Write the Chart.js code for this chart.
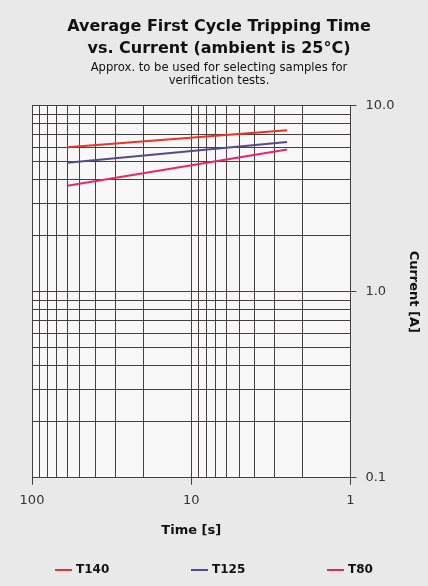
<!DOCTYPE html>
<html>
<head>
<meta charset="utf-8">
<script src="https://cdn.jsdelivr.net/npm/chart.js@4"></script>
<style>
  html, body { margin: 0; padding: 0; background: #e9e9e9; }
  #wrap { width: 428px; height: 586px; }
</style>
</head>
<body>
<div id="wrap"><canvas id="chart"></canvas></div>
<script>
// data
const times = [60, 2.5];          // s
const t140 = [6.0, 7.4];           // A
const t125 = [4.95, 6.4];
const t80 = [3.72, 5.82];

// grid / tick values
const xGrid = [1, 2, 3, 4, 5, 6, 7, 8, 9, 10, 20, 30, 40, 50, 60, 70, 80, 90, 100];
const xLabels = { 1: '1', 10: '10', 100: '100' };
const yGrid = [0.1, 0.2, 0.3, 0.4, 0.5, 0.6, 0.7, 0.8, 0.9, 1, 2, 3, 4, 5, 6, 7, 8, 9, 10];
const yLabels = { 0.1: '0.1', 1: '1.0', 10: '10.0' };

const pts = (ys) => times.map((t, i) => ({ x: t, y: ys[i] }));
const gridCol = '#444040';
const FONT = '"DejaVu Sans", Verdana, sans-serif';

// background: grey page, lighter plot area
const bgPlugin = {
    id: 'bg',
    beforeDraw: (chart) => {
        const c = chart.ctx, a = chart.chartArea;
        c.save();
        c.fillStyle = '#e9e9e9';
        c.fillRect(0, 0, chart.width, chart.height);
        c.fillStyle = '#f8f8f8';
        c.fillRect(a.left, a.top, a.right - a.left, a.bottom - a.top);
        c.restore();
    }
};

// legend spread across the bottom, one line per series
const legendPlugin = {
    id: 'spreadLegend',
    afterDraw: (chart) => {
        const c = chart.ctx;
        c.save();
        c.font = 'bold 12px ' + FONT;
        c.textBaseline = 'middle';
        chart.data.datasets.forEach((ds, i) => {
            const x = 55 + i * 136, y = 570;
            c.strokeStyle = ds.borderColor;
            c.lineWidth = 2;
            c.beginPath();
            c.moveTo(x, y);
            c.lineTo(x + 17, y);
            c.stroke();
            c.fillStyle = '#111';
            c.fillText(ds.label, x + 21, y);
        });
        c.restore();
    }
};

Chart.defaults.font.family = FONT;
Chart.defaults.color = '#222';

const ctx = document.getElementById('chart').getContext('2d');
let chart = new Chart(ctx, {
    type: 'line',
    data: {
        datasets: [
            { label: 'T140', data: pts(t140), borderColor: '#ee3228', borderWidth: 2, pointRadius: 0 },
            { label: 'T125', data: pts(t125), borderColor: '#574a86', borderWidth: 2, pointRadius: 0 },
            { label: 'T80', data: pts(t80), borderColor: '#e8266c', borderWidth: 2, pointRadius: 0 }
        ]
    },
    plugins: [bgPlugin, legendPlugin],
    options: {
        responsive: true,
        maintainAspectRatio: false,
        animation: false,
        layout: { padding: { left: 14, right: 4, top: 10, bottom: 44 } },
        plugins: {
            title: {
                display: true,
                text: ['Average First Cycle Tripping Time', 'vs. Current (ambient is 25°C)'],
                font: { size: 16, weight: 'bold', lineHeight: 1.35 },
                color: '#111',
                padding: { top: 6, bottom: 2 }
            },
            subtitle: {
                display: true,
                text: ['Approx. to be used for selecting samples for', 'verification tests.'],
                font: { size: 11.6, lineHeight: 1.15 },
                color: '#111',
                padding: { bottom: 18 }
            },
            legend: { display: false },
            tooltip: { enabled: false }
        },
        scales: {
            x: {
                type: 'logarithmic',
                reverse: true,
                min: 1,
                max: 100,
                afterBuildTicks: (s) => { s.ticks = xGrid.map(v => ({ value: v })); },
                ticks: {
                    autoSkip: false,
                    maxRotation: 0,
                    padding: 8,
                    font: { size: 13 },
                    color: '#333',
                    callback: (v) => xLabels[v] || ''
                },
                grid: {
                    color: gridCol,
                    lineWidth: 1,
                    tickLength: 7,
                    tickColor: (c) => (xLabels[c.tick && c.tick.value] ? gridCol : 'transparent')
                },
                border: { color: gridCol },
                title: { display: true, text: 'Time [s]', font: { size: 13, weight: 'bold' }, color: '#111', padding: { top: 6 } }
            },
            y: {
                type: 'logarithmic',
                position: 'right',
                min: 0.1,
                max: 10,
                afterBuildTicks: (s) => { s.ticks = yGrid.map(v => ({ value: v })); },
                ticks: {
                    autoSkip: false,
                    padding: 9,
                    font: { size: 13 },
                    color: '#333',
                    callback: (v) => yLabels[v] || ''
                },
                grid: {
                    color: gridCol,
                    lineWidth: 1,
                    tickLength: 6,
                    tickColor: (c) => (yLabels[c.tick && c.tick.value] ? gridCol : 'transparent')
                },
                border: { color: gridCol },
                title: { display: true, text: 'Current [A]', font: { size: 13, weight: 'bold' }, color: '#111', padding: { top: 3, bottom: 2 } }
            },
            // empty spacer on the left so the plot starts where the original does
            spacer: {
                type: 'linear',
                position: 'left',
                display: true,
                grid: { display: false },
                border: { display: false },
                ticks: { display: false },
                afterFit: (s) => { s.width = 18; }
            }
        }
    }
});
</script>
</body>
</html>
